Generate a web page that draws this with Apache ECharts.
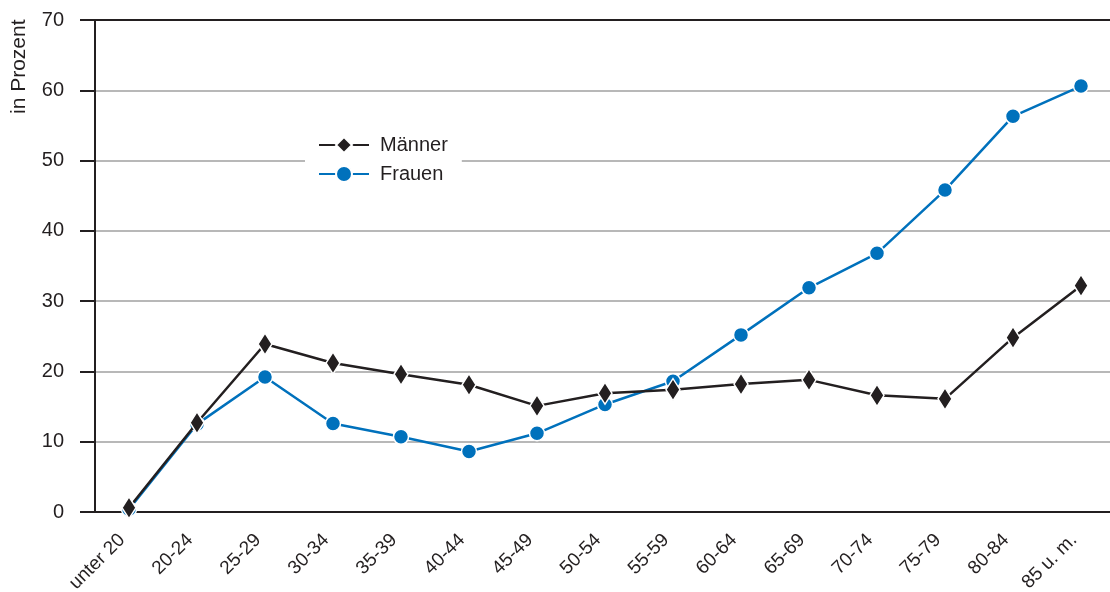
<!DOCTYPE html>
<html>
<head>
<meta charset="utf-8">
<script src="https://cdn.jsdelivr.net/npm/echarts@6/dist/echarts.min.js"></script>
<style>
  html, body { margin: 0; padding: 0; background: #fff; }
  #chart { width: 1110px; height: 592px; }
</style>
</head>
<body>
<div id="chart"></div>
<script>
  // Altersgruppen
  var categories = ['unter 20', '20-24', '25-29', '30-34', '35-39', '40-44', '45-49', '50-54',
    '55-59', '60-64', '65-69', '70-74', '75-79', '80-84', '85 u. m.']
  var maenner = [0.6, 12.7, 23.9, 21.2, 19.6, 18.1, 15.1, 16.9, 17.4, 18.2, 18.8, 16.6, 16.1, 24.8, 32.2]
  var frauen = [0.4, 12.5, 19.2, 12.6, 10.7, 8.6, 11.2, 15.3, 18.6, 25.2, 31.9, 36.8, 45.8, 56.3, 60.6]
  var yTicks = { min: 0, max: 70, interval: 10 }

  var font = 'Liberation Sans, Arial, Helvetica, sans-serif'
  var black = '#231f20'
  var blue = '#0071bc'

  var chart = echarts.init(document.getElementById('chart'))
  chart.setOption({
    animation: false,
    grid: {
      left: 95,
      top: 20,
      width: 1020,
      height: 492,
      outerBoundsMode: 'none'
    },
    legend: {
      orient: 'vertical',
      left: 305,
      top: 126,
      backgroundColor: '#fff',
      padding: [9, 14, 9, 13],
      itemWidth: 50,
      itemHeight: 20,
      itemGap: 9,
      textStyle: { fontFamily: font, fontSize: 20, color: black, padding: [0, 0, 0, 6] },
      data: ['Männer', 'Frauen']
    },
    graphic: [
      {
        type: 'text',
        x: 9,
        y: 114,
        rotation: Math.PI / 2,
        style: {
          text: 'in Prozent',
          font: '21px ' + font,
          fill: black
        }
      }
    ],
    xAxis: [
      {
        type: 'category',
        data: categories,
        boundaryGap: true,
        axisLine: { lineStyle: { color: black, width: 2 } },
        axisTick: { alignWithLabel: true, length: 10, lineStyle: { color: black, width: 2 } },
        axisLabel: {
          rotate: 45,
          margin: 18,
          padding: [0, 10, 0, 0],
          fontFamily: font,
          fontSize: 19,
          color: black,
          interval: 0
        },
        splitLine: { show: false }
      },
      {
        // schwarze Oberkante bei 70
        type: 'category',
        position: 'top',
        data: categories,
        axisLine: { lineStyle: { color: black, width: 2 } },
        axisTick: { show: false },
        axisLabel: { show: false }
      }
    ],
    yAxis: {
      type: 'value',
      min: yTicks.min,
      max: yTicks.max,
      interval: yTicks.interval,
      axisLine: { show: true, lineStyle: { color: black, width: 2 } },
      axisTick: { show: true, length: 15, lineStyle: { color: black, width: 2 } },
      axisLabel: {
        margin: 31,
        fontFamily: font,
        fontSize: 20,
        color: black
      },
      splitLine: { lineStyle: { color: '#a0a0a0', width: 1.5 } }
    },
    series: [
      {
        name: 'Frauen',
        type: 'line',
        data: frauen,
        symbol: 'circle',
        symbolSize: 15,
        lineStyle: { color: blue, width: 2.5 },
        itemStyle: { color: blue, borderColor: '#fff', borderWidth: 1.5 },
        z: 2
      },
      {
        name: 'Männer',
        type: 'line',
        data: maenner,
        symbol: 'diamond',
        symbolSize: [14, 22],
        lineStyle: { color: black, width: 2.5 },
        itemStyle: { color: black, borderColor: '#fff', borderWidth: 1.5 },
        z: 3
      }
    ]
  })
</script>
</body>
</html>
